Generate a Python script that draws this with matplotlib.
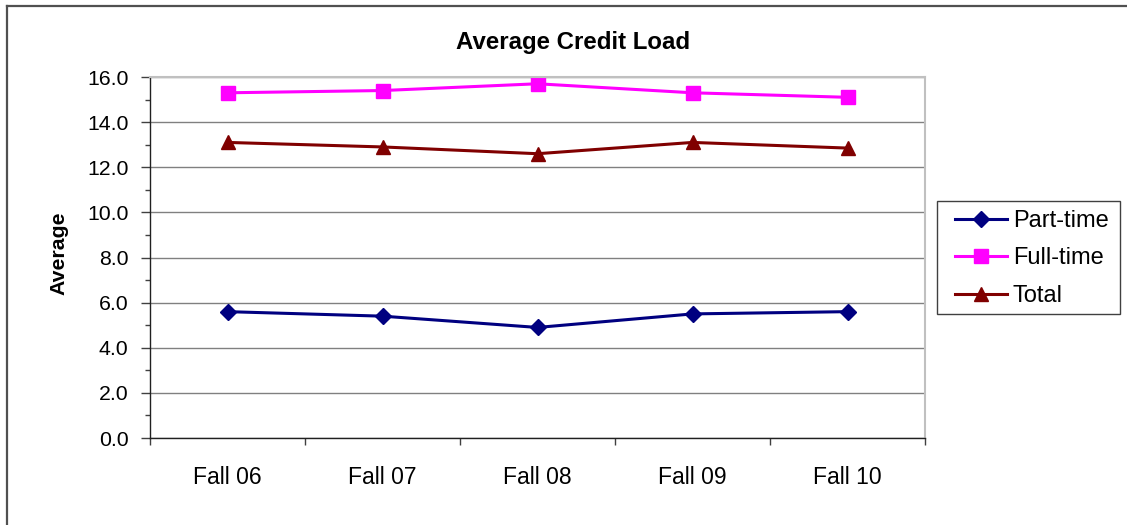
import matplotlib
matplotlib.use("Agg")
import matplotlib.pyplot as plt
from matplotlib.patches import Rectangle
from matplotlib.lines import Line2D
from matplotlib.ticker import MultipleLocator, FixedLocator

plt.rcParams['font.family'] = ['Liberation Sans', 'DejaVu Sans']

categories = ["Fall 06", "Fall 07", "Fall 08", "Fall 09", "Fall 10"]
part_time = [5.6, 5.4, 4.9, 5.5, 5.6]
full_time = [15.3, 15.4, 15.7, 15.3, 15.1]
total = [13.1, 12.9, 12.6, 13.1, 12.85]
y_ticks = [0, 2, 4, 6, 8, 10, 12, 14, 16]

W, H = 1127, 525
fig = plt.figure(figsize=(W / 100, H / 100), dpi=100)
fig.patch.set_facecolor('white')

# outer chart border (only top and left edges visible; image is cropped)
fig.add_artist(Line2D([7 / W, 1.0], [1 - 6 / H, 1 - 6 / H], transform=fig.transFigure,
                      color='#505050', linewidth=1.6))
fig.add_artist(Line2D([7 / W, 7 / W], [0.0, 1 - 6 / H], transform=fig.transFigure,
                      color='#505050', linewidth=1.6))

ax = fig.add_axes([150 / W, 1 - 438 / H, 775 / W, 361 / H])
x = list(range(len(categories)))

ax.plot(x, part_time, color='#000080', marker='D', markersize=8, linewidth=2.2,
        label='Part-time', clip_on=False)
ax.plot(x, full_time, color='#FF00FF', marker='s', markersize=10.5, linewidth=2.2,
        label='Full-time', clip_on=False)
ax.plot(x, total, color='#800000', marker='^', markersize=10.5, linewidth=2.2,
        label='Total', clip_on=False)

ax.set_xlim(-0.5, len(categories) - 0.5)
ax.set_ylim(0, 16)
ax.set_yticks(y_ticks)
ax.set_yticklabels([f"{v:.1f}" for v in y_ticks], fontsize=15.3)
ax.yaxis.set_minor_locator(MultipleLocator(1))
ax.set_xticks(x)
ax.set_xticklabels(categories, fontsize=16.5)
ax.xaxis.set_minor_locator(FixedLocator([i - 0.5 for i in range(len(categories) + 1)]))
ax.tick_params(axis='x', which='major', length=0, pad=20)
ax.tick_params(axis='x', which='minor', length=5, width=1, color='#404040')
ax.tick_params(axis='y', which='major', length=6.5, width=1, color='#404040', pad=9)
ax.tick_params(axis='y', which='minor', length=3.5, width=1, color='#404040')

ax.grid(axis='y', which='major', color='#808080', linewidth=1)
ax.set_axisbelow(True)
for s in ['top', 'right']:
    ax.spines[s].set_color('#C0C0C0')
    ax.spines[s].set_linewidth(1.5)
for s in ['left', 'bottom']:
    ax.spines[s].set_color('#202020')
    ax.spines[s].set_linewidth(1)

ax.set_ylabel('Average', fontsize=15.3, fontweight='bold', va='center')
ax.yaxis.set_label_coords((59 - 150) / 775, (438 - 253.5) / 361)

fig.text(573 / W, 1 - 43 / H, 'Average Credit Load', fontsize=17.3,
         fontweight='bold', ha='center', va='center')

# legend frame drawn explicitly
fig.add_artist(Rectangle((937 / W, 1 - 314 / H), 183 / W, 113 / H,
                         transform=fig.transFigure, fill=False,
                         edgecolor='#404040', linewidth=1))
leg = fig.legend(loc='center left', bbox_to_anchor=(955 / W, 1 - 258.5 / H),
                 bbox_transform=fig.transFigure, fontsize=17, frameon=False,
                 handlelength=2.2, handletextpad=0.25, borderpad=0,
                 labelspacing=0.66, borderaxespad=0)

fig.savefig('out.png', dpi=100)
